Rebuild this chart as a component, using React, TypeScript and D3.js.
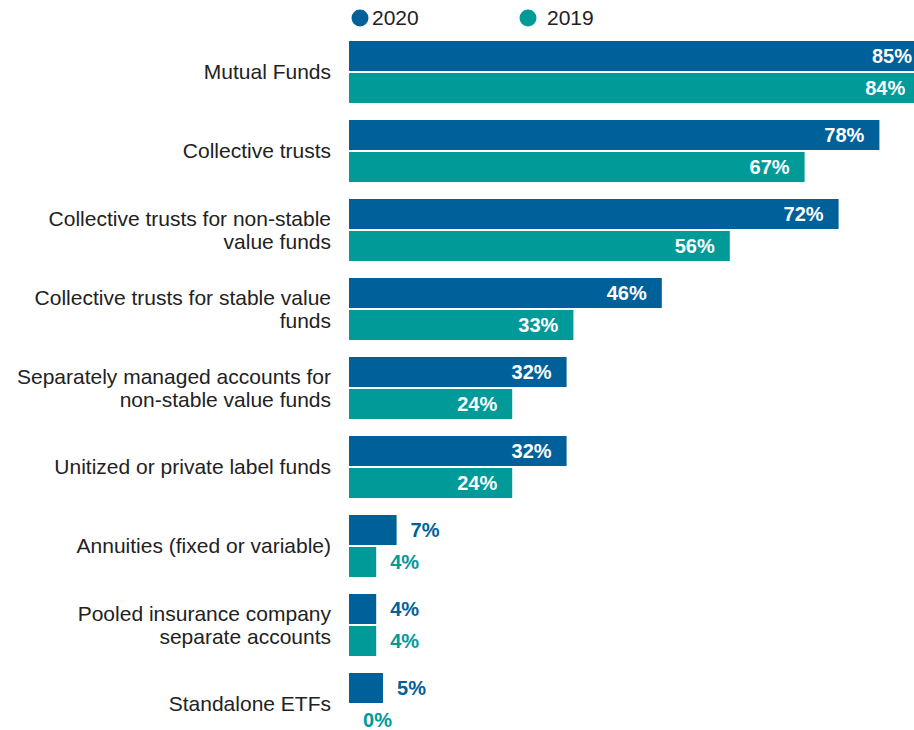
import React from "react";
import * as d3 from "d3";

// categories, top to bottom (each entry is one or two label lines)
const categories = [
  "Mutual Funds",
  "Collective trusts",
  "Collective trusts for non-stable value funds",
  "Collective trusts for stable value funds",
  "Separately managed accounts for non-stable value funds",
  "Unitized or private label funds",
  "Annuities (fixed or variable)",
  "Pooled insurance company separate accounts",
  "Standalone ETFs",
];
const labelLines = [
  ["Mutual Funds"],
  ["Collective trusts"],
  ["Collective trusts for non-stable", "value funds"],
  ["Collective trusts for stable value", "funds"],
  ["Separately managed accounts for", "non-stable value funds"],
  ["Unitized or private label funds"],
  ["Annuities (fixed or variable)"],
  ["Pooled insurance company", "separate accounts"],
  ["Standalone ETFs"],
];
const series = ["2020", "2019"];
const values2020 = [85, 78, 72, 46, 32, 32, 7, 4, 5];
const values2019 = [84, 67, 56, 33, 24, 24, 4, 4, 0];

const colors: Record<string, string> = { "2020": "#00609a", "2019": "#009a98" };
const W = 914;
const H = 730;
const font = "'Liberation Sans', Arial, sans-serif";

export default function App() {
  // x: percent -> px, bars start at 349
  const x = d3.scaleLinear().domain([0, 100]).range([349, 349 + 680]);
  const y = d3
    .scaleBand()
    .domain(categories)
    .range([32.5, 743.5])
    .paddingInner(0.215)
    .paddingOuter(0.1075);
  const ys = d3.scaleBand().domain(series).range([0, y.bandwidth()]).paddingInner(0.0625);

  const data = categories.map((c, i) => ({
    cat: c,
    lines: labelLines[i],
    vals: [
      { s: "2020", v: values2020[i] },
      { s: "2019", v: values2019[i] },
    ],
  }));

  const lineH = 23;

  return (
    <svg
      width={W}
      height={H}
      style={{ position: "absolute", left: 0, top: 0, background: "#fff" }}
      fontFamily={font}
    >
      {/* legend */}
      <g>
        <circle cx={360} cy={18} r={8.5} fill={colors["2020"]} />
        <text x={372} y={18} dy="0.35em" fontSize={21} fill="#222">2020</text>
        <circle cx={528} cy={18} r={8.5} fill={colors["2019"]} />
        <text x={547} y={18} dy="0.35em" fontSize={21} fill="#222">2019</text>
      </g>

      {data.map((d) => {
        const y0 = y(d.cat)!;
        const mid = y0 + y.bandwidth() / 2;
        const n = d.lines.length;
        return (
          <g key={d.cat}>
            {d.lines.map((ln, j) => (
              <text
                key={j}
                x={331}
                y={mid + (j - (n - 1) / 2) * lineH}
                dy="0.35em"
                textAnchor="end"
                fontSize={21}
                fill="#222"
              >
                {ln}
              </text>
            ))}
            {d.vals.map((b) => {
              const by = y0 + ys(b.s)!;
              const bw = x(b.v) - x(0);
              const inside = b.v >= 10;
              return (
                <g key={b.s}>
                  {b.v > 0 && (
                    <rect x={x(0)} y={by} width={bw} height={ys.bandwidth()} fill={colors[b.s]} />
                  )}
                  <text
                    x={inside ? x(b.v) - 15 : x(b.v) + 14}
                    y={by + ys.bandwidth() / 2}
                    dy="0.35em"
                    textAnchor={inside ? "end" : "start"}
                    fontSize={20}
                    fontWeight="bold"
                    fill={inside ? "#fff" : colors[b.s]}
                  >
                    {b.v}%
                  </text>
                </g>
              );
            })}
          </g>
        );
      })}
    </svg>
  );
}
